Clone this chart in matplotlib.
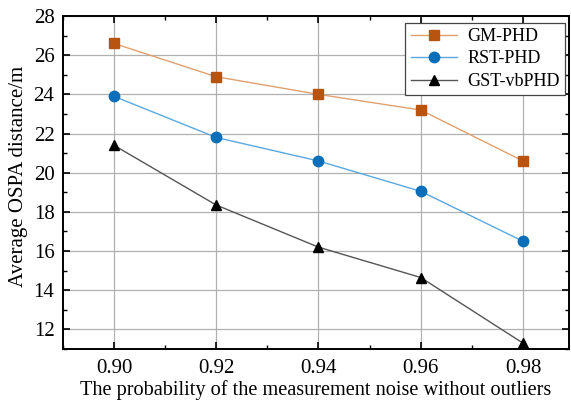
import matplotlib.pyplot as plt
from matplotlib.ticker import MultipleLocator

plt.rcParams['font.family'] = ['Liberation Serif', 'DejaVu Serif']

x = [0.90, 0.92, 0.94, 0.96, 0.98]
gm_phd = [26.6, 24.9, 24.0, 23.2, 20.6]
rst_phd = [23.9, 21.8, 20.6, 19.05, 16.5]
gst_vbphd = [21.4, 18.35, 16.2, 14.65, 11.3]

fig = plt.figure(figsize=(5.71, 4.0), dpi=100)
ax = fig.add_axes([0.110, 0.1275, 0.8865, 0.8325])

ax.plot(x, gm_phd, color='#E0A070', lw=1.0, marker='s', ms=7,
        mfc='#B85410', mec='#B85410', label='GM-PHD')
ax.plot(x, rst_phd, color='#5AA8E0', lw=1.0, marker='o', ms=7.5,
        mfc='#0A6EB8', mec='#0A6EB8', label='RST-PHD')
ax.plot(x, gst_vbphd, color='#555555', lw=1.0, marker='^', ms=7.5,
        mfc='black', mec='black', label='GST-vbPHD')

ax.set_xlim(0.89, 0.989)
ax.set_ylim(11, 28)
ax.set_xticks(x)
ax.set_xticklabels(['0.90', '0.92', '0.94', '0.96', '0.98'])
ax.xaxis.set_minor_locator(MultipleLocator(0.01))
ax.yaxis.set_major_locator(MultipleLocator(2))
ax.yaxis.set_minor_locator(MultipleLocator(1))
ax.tick_params(which='both', direction='in', top=True, right=True, labelsize=15)
ax.tick_params(which='major', length=5, width=1.2)
ax.tick_params(which='minor', length=3, width=1.0)
ax.tick_params(axis='x', which='major', pad=7.5)
ax.tick_params(axis='y', which='major', pad=6)
ax.grid(True, color='#b0b0b0', lw=0.9)
for s in ax.spines.values():
    s.set_linewidth(1.4)

ax.set_xlabel('The probability of the measurement noise without outliers',
              fontsize=14.6, labelpad=1)
ax.set_ylabel('Average OSPA distance/m', fontsize=15)
ax.yaxis.set_label_coords(-0.068, 0.517)

leg = ax.legend(loc='upper right', bbox_to_anchor=(0.992, 0.979), borderaxespad=0,
                fontsize=13, fancybox=False, framealpha=1, edgecolor='#444444',
                handlelength=2.6, handletextpad=0.55, labelspacing=0.3,
                borderpad=0.28)
leg.get_frame().set_linewidth(0.9)

fig.savefig('out.png', dpi=100)
